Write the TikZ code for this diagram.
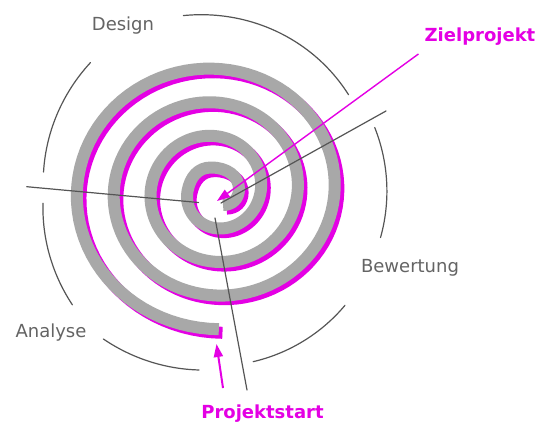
\documentclass[tikz,border=0pt]{standalone}
\usepackage{fontspec}
\setmainfont{DejaVu Sans}
\usetikzlibrary{arrows.meta}
\definecolor{band}{RGB}{168,168,168}
\definecolor{mag}{RGB}{228,0,228}
\definecolor{thinc}{RGB}{85,85,85}
\definecolor{txt}{RGB}{100,100,100}
\newcommand\SpiralPath{plot[domain=88.5:1260,samples=300] ({215+(82.7+0.1025*(720-\x))*cos(\x)},{190.5+(79.7+0.0935*(720-\x))*sin(\x)}) .. controls (190.3,177) and (198,167.5) .. (211,167.5) .. controls (227,167.5) and (239,176) .. (239,189) .. controls (239,199) and (232,205) .. (223,205)}
\newcommand\PhaseArc[4]{plot[domain=#1:#2,samples=50] ({215+((#3)+((#4)-(#3))*(\x-(#1))/((#2)-(#1)))*cos(\x)},{195+((#3)+((#4)-(#3))*(\x-(#1))/((#2)-(#1)))*sin(\x)})}
\begin{document}
\begin{tikzpicture}[x=1pt,y=-1pt,
  phase/.style={text=txt,font=\fontsize{18}{20}\selectfont,inner sep=0pt},
  goal/.style={text=mag,font=\bfseries\fontsize{18}{20}\selectfont,inner sep=0pt},
  thinline/.style={draw=thinc,line width=1.2pt,line cap=round},
  arcline/.style={draw=thinc,line width=1.2pt,line cap=round},
  magarrow/.style={draw=mag,line width=1.4pt,-{Triangle[length=13pt,width=9pt]}}]
\useasboundingbox (0,0) rectangle (540,426);
\fill[white] (0,0) rectangle (540,426);
% spiral: magenta shadow then gray band
\begin{scope}[shift={(3.6,3.6)}]
\draw[mag,line width=12pt,line join=round] \SpiralPath;
\end{scope}
\draw[band,line width=12pt,line join=round] \SpiralPath;
% phase arcs
\draw[arcline] \PhaseArc{-100}{-36.9}{182.2}{167};
\draw[arcline] \PhaseArc{-22.9}{14.4}{173.4}{170.9};
\draw[arcline] \PhaseArc{40.3}{77.1}{170.5}{171};
\draw[arcline] \PhaseArc{95.2}{127.8}{175.7}{182.2};
\draw[arcline] \PhaseArc{142.4}{177.3}{180}{172.2};
\draw[arcline] \PhaseArc{187.6}{226.8}{173}{181.8};
% coordinates of the radial lines
\coordinate (la) at (26.7,186.7);
\coordinate (lb) at (198.5,202.5);
\coordinate (ra) at (386,111);
\coordinate (rb) at (221,203);
\coordinate (va) at (215,218);
\coordinate (vb) at (247,390);
\draw[thinline] (la) -- (lb);
\draw[thinline] (ra) -- (rb);
\draw[thinline] (va) -- (vb);
% labels
\node[phase] (design) at (123,26) {Design};
\node[phase] (bewertung) at (410,268) {Bewertung};
\node[phase] (analyse) at (51,333) {Analyse};
\node[goal] (ziel) at (480,37) {Zielprojekt};
\node[goal] (start) at (262.5,414) {Projektstart};
% arrows
\coordinate (zieltip) at (217,201);
\coordinate (starttail) at (223,388);
\coordinate (starttip) at (216.5,344);
\draw[magarrow] ([shift={(-6,8)}]ziel.south west) -- (zieltip);
\draw[magarrow,line width=2pt] (starttail) -- (starttip);
\end{tikzpicture}
\end{document}
